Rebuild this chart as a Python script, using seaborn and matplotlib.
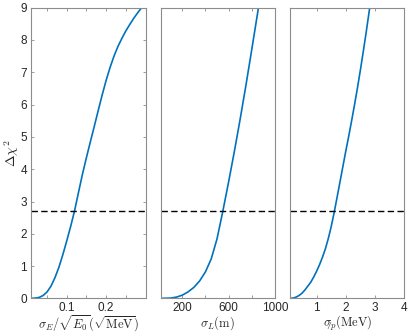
import matplotlib
matplotlib.use("Agg")
import matplotlib.pyplot as plt
import seaborn as sns
import pandas as pd
import numpy as np

# ---- data ----
sigE_x = [0.011, 0.02, 0.03, 0.04, 0.05, 0.06, 0.07, 0.08, 0.09, 0.10, 0.11,
          0.12, 0.13, 0.14, 0.15, 0.16, 0.17, 0.18, 0.19, 0.20, 0.21, 0.22,
          0.23, 0.24, 0.25, 0.26, 0.27, 0.28, 0.29, 0.295]
sigE_y = [0.0, 0.01, 0.03, 0.09, 0.2, 0.38, 0.64, 0.96, 1.35, 1.78, 2.23,
          2.72, 3.29, 3.85, 4.36, 4.85, 5.33, 5.82, 6.3, 6.75, 7.15, 7.5,
          7.8, 8.05, 8.28, 8.48, 8.67, 8.84, 9.0, 9.08]

sigL_x = [14, 100, 150, 200, 250, 300, 350, 400, 450, 500, 550, 600, 650,
          700, 750, 800, 850, 870]
sigL_y = [0.0, 0.01, 0.04, 0.1, 0.2, 0.34, 0.54, 0.82, 1.22, 1.84, 2.69,
          3.6, 4.55, 5.55, 6.6, 7.7, 8.82, 9.27]

sigP_x = [0.09, 0.2, 0.3, 0.4, 0.5, 0.6, 0.7, 0.8, 0.9, 1.0, 1.1, 1.2, 1.3,
          1.4, 1.5, 1.6, 1.7, 1.8, 1.9, 2.0, 2.1, 2.2, 2.3, 2.4, 2.5, 2.6,
          2.7, 2.8, 2.85]
sigP_y = [0.0, 0.01, 0.04, 0.09, 0.16, 0.26, 0.38, 0.5, 0.66, 0.84, 1.04,
          1.27, 1.53, 1.85, 2.22, 2.65, 3.12, 3.6, 4.08, 4.56, 5.02, 5.5,
          6.0, 6.52, 7.07, 7.65, 8.25, 8.88, 9.2]

threshold = 2.71

xlabels = [r"$\sigma_E/\sqrt{E_0}(\sqrt{\mathrm{MeV}})$",
           r"$\sigma_L(\mathrm{m})$",
           r"$\sigma_{\not{p}}(\mathrm{MeV})$"]
xlims = [(0.01, 0.30), (14, 1000), (0.09, 4.0)]
major_ticks = [[0.1, 0.2], [200, 600, 1000], [1, 2, 3, 4]]
major_labels = [["0.1", "0.2"], ["200", "600", "1000"], ["1", "2", "3", "4"]]
minor_ticks = [[0.05, 0.15, 0.25], [400, 800], []]
yticks = list(range(0, 10))

# ---- styling ----
sns.set_style("white")
plt.rcParams["font.family"] = ["Liberation Sans", "DejaVu Sans"]
plt.rcParams["mathtext.fontset"] = "cm"

LINE = "#0072BD"
SPINE = "#8c8c8c"
TXT = "#262626"

fig = plt.figure(figsize=(4.15, 3.35), dpi=100)
W, H = 415.0, 335.0
bottom = 1 - 298.4 / H
height = 290.7 / H
lefts = [31.3, 160.7, 290.0]
width = 114.2 / W

datasets = [(sigE_x, sigE_y), (sigL_x, sigL_y), (sigP_x, sigP_y)]
axes = []
for i, (xs, ys) in enumerate(datasets):
    ax = fig.add_axes([lefts[i] / W, bottom, width, height])
    axes.append(ax)
    df = pd.DataFrame({"x": xs, "y": ys})
    sns.lineplot(data=df, x="x", y="y", ax=ax, color=LINE, lw=1.2,
                 sort=False, estimator=None)
    ax.axhline(threshold, color="black", lw=1.0, dashes=(4.6, 2.4))
    ax.set_xlim(*xlims[i])
    ax.set_ylim(0, 9)
    ax.set_xticks(major_ticks[i])
    ax.set_xticklabels(major_labels[i])
    ax.set_xticks(minor_ticks[i], minor=True)
    for s in ax.spines.values():
        s.set_color(SPINE)
        s.set_linewidth(0.8)
        s.set_visible(True)
    ax.tick_params(axis="x", which="both", direction="in", top=True, bottom=True,
                   length=2.5, width=0.6, color=SPINE, labelsize=8.5,
                   labelcolor=TXT, pad=2.5)
    if i == 0:
        ax.set_yticks(yticks)
        ax.tick_params(axis="y", direction="in", left=True, right=True,
                       length=2.5, width=0.6, color=SPINE, labelsize=8.5,
                       labelcolor=TXT, pad=3)
        ax.set_ylabel(r"$\Delta\chi^2$", fontsize=10, color=TXT, labelpad=0)
    else:
        ax.set_yticks([])
        ax.set_ylabel("")
    ax.set_xlabel(xlabels[i], fontsize=9, color=TXT, labelpad=0)

try:
    fig.canvas.draw()
except Exception:
    axes[2].set_xlabel(r"$\sigma_{p\!\!\!/}(\mathrm{MeV})$", fontsize=9,
                       color=TXT, labelpad=0)

fig.savefig("out.png", dpi=100)
